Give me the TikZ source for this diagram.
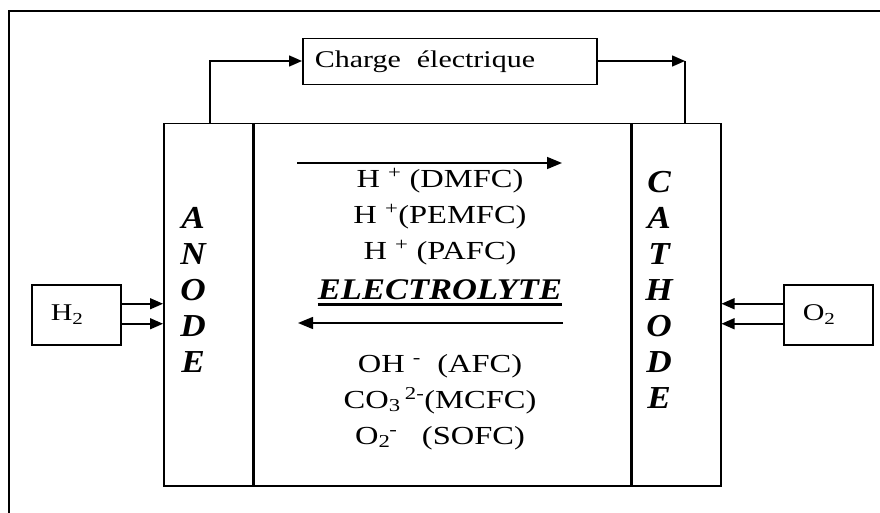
\documentclass[tikz,border=0pt]{standalone}
\usepackage{fontspec}
\setmainfont[FakeStretch=1.25]{Liberation Serif}
\newfontfamily\narrowfam[FakeStretch=1.1]{Liberation Serif}
\newfontfamily\elytefam[FakeStretch=1.15]{Liberation Serif}
\usetikzlibrary{positioning,arrows.meta,calc}

\tikzset{
  box/.style={draw, line width=1.5pt, inner sep=0pt},
  wire/.style={line width=1.5pt},
  feed/.style={wire, -{Triangle[length=13pt,width=11pt]}},
  letters/.style={font=\narrowfam\fontsize{32}{36}\selectfont\bfseries\itshape, align=center, inner sep=0pt},
  ions/.style={font=\fontsize{26}{36}\selectfont, align=center, inner sep=0pt},
}

\begin{document}
\begin{tikzpicture}[x=1pt, y=-1pt]
  \useasboundingbox (0,0) rectangle (880,513);
  % outer frame, cut at the right and at the bottom
  \draw[line width=2.5pt] (9,513) -- (9,11) -- (880,11);

  \node[box, anchor=north west, minimum width=294pt, minimum height=46pt, text width=270pt, align=left, font=\fontsize{24}{28}\selectfont] (charge) at (302,38) {Charge\ \ électrique};

  % the cell
  \node[box, anchor=north west, minimum width=89pt, minimum height=362pt] (anode) at (163,123) {};
  \node[box, anchor=north west, minimum width=376pt, minimum height=362pt] (elec) at (anode.north east) {};
  \node[box, anchor=north west, minimum width=89pt, minimum height=362pt] (cathode) at (elec.north east) {};

  \node[letters] (anodetxt) at (193,290) {A\\N\\O\\D\\E};
  \node[letters] (cathodetxt) at (659,290) {C\\A\\T\\H\\O\\D\\E};

  \node[ions] (ionsup) at (440,217) {H \textsuperscript{+} (DMFC)\\H \textsuperscript{+}(PEMFC)\\H \textsuperscript{+} (PAFC)};
  \node[font=\elytefam\fontsize{30}{32}\selectfont\bfseries\itshape, inner sep=0pt] (elyte) at (440,290) {ELECTROLYTE};
  \draw[line width=3pt] ([yshift=-4pt]elyte.south west) -- ([yshift=-4pt]elyte.south east);
  \node[ions] (ionsdown) at (440,402) {OH \textsuperscript{-}\ \ (AFC)\\CO\textsubscript{3}\,\textsuperscript{2-}(MCFC)\\O\textsubscript{2}\kern-1pt\textsuperscript{-}\ \ \ (SOFC)};

  \coordinate (fwdA) at (297,163);
  \coordinate (fwdB) at (562,163);
  \coordinate (bwdA) at (563,323);
  \coordinate (bwdB) at (298,323);
  \draw[wire, -{Triangle[length=15pt,width=12pt]}] (fwdA) -- (fwdB);
  \draw[wire, -{Triangle[length=15pt,width=12pt]}] (bwdA) -- (bwdB);

  % gases
  \node[box, anchor=north west, minimum width=89pt, minimum height=60pt, text width=51pt, align=left, font=\fontsize{24}{28}\selectfont] (htwo) at (31,284) {H\textsubscript{2}};
  \node[box, anchor=north west, minimum width=89pt, minimum height=60pt, text width=51pt, align=left, font=\fontsize{24}{28}\selectfont] (otwo) at (783,284) {O\textsubscript{2}};

  \coordinate (hA) at ($(htwo.east)+(0,-11)$);
  \coordinate (hB) at ($(htwo.east)+(0,9)$);
  \coordinate (oA) at ($(otwo.west)+(0,-11)$);
  \coordinate (oB) at ($(otwo.west)+(0,9)$);
  \draw[feed] (hA) -- (hA -| anode.west);
  \draw[feed] (hB) -- (hB -| anode.west);
  \draw[feed] (oA) -- (oA -| cathode.east);
  \draw[feed] (oB) -- (oB -| cathode.east);

  % external circuit
  \coordinate (lw) at (210,61);
  \coordinate (rw) at (685,61);
  \draw[feed] (lw |- anode.north) -- (lw) -- (lw -| charge.west);
  \draw[feed] (rw -| charge.east) -- (rw);
  \draw[wire] (rw) -- (rw |- cathode.north);
\end{tikzpicture}
\end{document}
